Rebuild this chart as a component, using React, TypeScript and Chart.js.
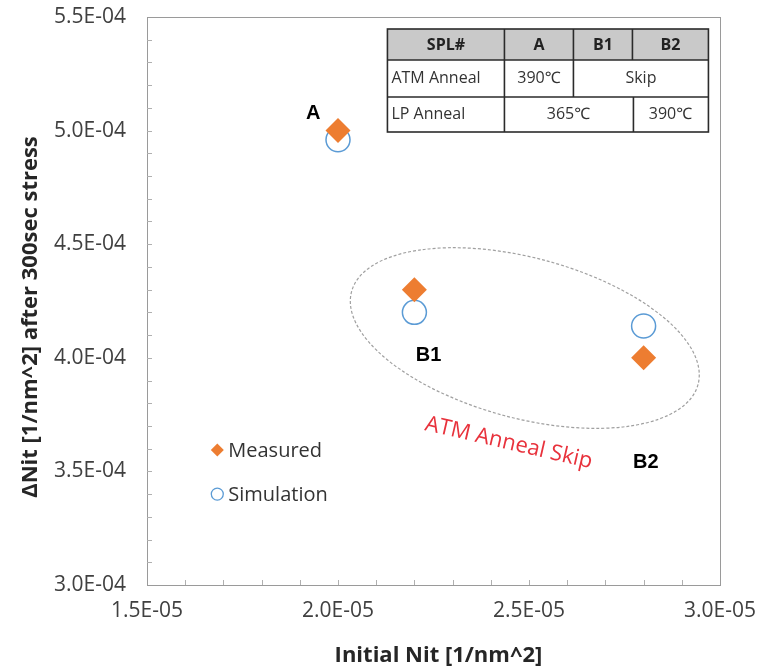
import React, { useEffect, useRef } from "react";
import { Chart, registerables } from "chart.js";

Chart.register(...registerables);

// ---- data ----
const seriesNames = ["Measured", "Simulation"];
const sampleNames = ["A", "B1", "B2"];
const initialNit = [2.0e-5, 2.2e-5, 2.8e-5];
const measuredDeltaNit = [5.0e-4, 4.3e-4, 4.0e-4];
const simulatedDeltaNit = [4.96e-4, 4.2e-4, 4.14e-4];

const xMajorTicks = [1.5e-5, 2.0e-5, 2.5e-5, 3.0e-5];
const xTickLabels = ["1.5E-05", "2.0E-05", "2.5E-05", "3.0E-05"];
const yMajorTicks = [3.0e-4, 3.5e-4, 4.0e-4, 4.5e-4, 5.0e-4, 5.5e-4];
const yTickLabels = ["3.0E-04", "3.5E-04", "4.0E-04", "4.5E-04", "5.0E-04", "5.5E-04"];

const xTitle = "Initial Nit [1/nm^2]";
const yTitle = "\u0394Nit [1/nm^2] after 300sec stress";

// sample label anchors (data units)
const sampleLabelX = [1.935e-5, 2.237e-5, 2.806e-5];
const sampleLabelY = [5.077e-4, 4.012e-4, 3.541e-4];

// group ellipse + note (data units for centre)
const groupCenter = [2.489e-5, 4.087e-4];
const groupNote = "ATM Anneal Skip";
const groupNotePos = [2.447e-5, 3.625e-4];

// legend anchors (data units)
const legendX = 1.684e-5;
const legendY = [3.594e-4, 3.40e-4];

// condition table
const tableHeader = ["SPL#", "A", "B1", "B2"];
const atmRow = ["ATM Anneal", "390\u2103", "Skip"];
const lpRow = ["LP Anneal", "365\u2103", "390\u2103"];

const ORANGE = "#ED7D31";
const BLUE = "#5B9BD5";
const FONT = "'Open Sans', 'Noto Sans', sans-serif";

function lookup(ticks: number[], labels: string[], v: number, tol: number) {
  const i = ticks.findIndex((t) => Math.abs(t - v) < tol);
  return i >= 0 ? labels[i] : "";
}

function drawDiamond(ctx: CanvasRenderingContext2D, x: number, y: number, r: number) {
  ctx.beginPath();
  ctx.moveTo(x, y - r);
  ctx.lineTo(x + r, y);
  ctx.lineTo(x, y + r);
  ctx.lineTo(x - r, y);
  ctx.closePath();
}

const overlayPlugin = {
  id: "overlay",
  beforeDatasetsDraw(chart: any) {
    const { ctx, chartArea: a, scales } = chart;
    const xs = scales.x;
    const ys = scales.y;
    ctx.save();
    // plot box
    ctx.strokeStyle = "#9a9a9a";
    ctx.lineWidth = 1;
    ctx.strokeRect(Math.round(a.left) + 0.5, Math.round(a.top) + 0.5, Math.round(a.right - a.left), Math.round(a.bottom - a.top));
    // minor ticks (inside)
    ctx.strokeStyle = "#b0b0b0";
    ctx.beginPath();
    for (let k = 1; k < 15; k++) {
      const px = Math.round(xs.getPixelForValue(1.5e-5 + k * 1e-6)) + 0.5;
      ctx.moveTo(px, a.bottom);
      ctx.lineTo(px, a.bottom - 5);
    }
    for (let k = 1; k < 25; k++) {
      const py = Math.round(ys.getPixelForValue(3.0e-4 + k * 1e-5)) + 0.5;
      ctx.moveTo(a.left, py);
      ctx.lineTo(a.left + 5, py);
    }
    ctx.stroke();
    // dashed ellipse
    const cx = xs.getPixelForValue(groupCenter[0]);
    const cy = ys.getPixelForValue(groupCenter[1]);
    const w = a.right - a.left;
    ctx.setLineDash([3, 2]);
    ctx.strokeStyle = "#a0a0a0";
    ctx.lineWidth = 1.2;
    ctx.beginPath();
    ctx.ellipse(cx, cy, w * 0.313, w * 0.14, (15 * Math.PI) / 180, 0, Math.PI * 2);
    ctx.stroke();
    ctx.restore();

    // axis titles
    ctx.save();
    ctx.fillStyle = "#262626";
    ctx.font = `bold 22px ${FONT}`;
    ctx.textAlign = "center";
    ctx.textBaseline = "middle";
    ctx.fillText(xTitle, (a.left + a.right) / 2 + 5, a.bottom + 71);
    ctx.translate(a.left - 116, (a.top + a.bottom) / 2 + 16);
    ctx.rotate(-Math.PI / 2);
    ctx.fillText(yTitle, 0, 0);
    ctx.restore();
  },
  afterDatasetsDraw(chart: any) {
    const { ctx, chartArea: a, scales } = chart;
    const xs = scales.x;
    const ys = scales.y;
    ctx.save();
    // sample labels
    ctx.fillStyle = "#000";
    ctx.font = "bold 20px 'Liberation Sans', Arial, sans-serif";
    ctx.textAlign = "center";
    ctx.textBaseline = "middle";
    sampleNames.forEach((n, i) => {
      ctx.fillText(n, xs.getPixelForValue(sampleLabelX[i]), ys.getPixelForValue(sampleLabelY[i]));
    });
    // red note
    ctx.save();
    ctx.translate(xs.getPixelForValue(groupNotePos[0]), ys.getPixelForValue(groupNotePos[1]));
    ctx.rotate((13 * Math.PI) / 180);
    ctx.fillStyle = "#E8323C";
    ctx.font = `22px ${FONT}`;
    ctx.fillText(groupNote, 0, 0);
    ctx.restore();
    // legend
    ctx.textAlign = "left";
    ctx.font = `20px ${FONT}`;
    const lx = xs.getPixelForValue(legendX);
    const ly0 = ys.getPixelForValue(legendY[0]);
    const ly1 = ys.getPixelForValue(legendY[1]);
    ctx.fillStyle = ORANGE;
    drawDiamond(ctx, lx, ly0, 6.5);
    ctx.fill();
    ctx.strokeStyle = BLUE;
    ctx.lineWidth = 1.3;
    ctx.beginPath();
    ctx.arc(lx, ly1, 6, 0, Math.PI * 2);
    ctx.stroke();
    ctx.fillStyle = "#333";
    ctx.fillText(seriesNames[0], lx + 11, ly0 + 1);
    ctx.fillText(seriesNames[1], lx + 11, ly1 + 1);

    // table
    const tx = a.left + (a.right - a.left) * 0.4196;
    const ty = a.top + 12;
    const colW = [117, 69, 59, 76];
    const rowH = [31, 37, 35];
    const tw = colW.reduce((s, v) => s + v, 0);
    const th = rowH.reduce((s, v) => s + v, 0);
    const cxs = [tx];
    colW.forEach((c, i) => cxs.push(cxs[i] + c));
    const rys = [ty];
    rowH.forEach((r, i) => rys.push(rys[i] + r));
    ctx.fillStyle = "#fff";
    ctx.fillRect(tx, ty, tw, th);
    ctx.fillStyle = "#c9c9c9";
    ctx.fillRect(tx, ty, tw, rowH[0]);
    ctx.strokeStyle = "#2b2b2b";
    ctx.lineWidth = 1.6;
    ctx.strokeRect(tx, ty, tw, th);
    ctx.beginPath();
    ctx.moveTo(tx, rys[1]); ctx.lineTo(tx + tw, rys[1]);
    ctx.moveTo(tx, rys[2]); ctx.lineTo(tx + tw, rys[2]);
    ctx.moveTo(cxs[1], ty); ctx.lineTo(cxs[1], ty + th);
    ctx.moveTo(cxs[2], ty); ctx.lineTo(cxs[2], rys[2]);
    ctx.moveTo(cxs[3], ty); ctx.lineTo(cxs[3], rys[1]);
    ctx.moveTo(cxs[3] + 1, rys[2]); ctx.lineTo(cxs[3] + 1, ty + th);
    ctx.stroke();
    ctx.textBaseline = "middle";
    ctx.fillStyle = "#222";
    ctx.font = `bold 16px ${FONT}`;
    ctx.textAlign = "center";
    tableHeader.forEach((h, i) => ctx.fillText(h, (cxs[i] + cxs[i + 1]) / 2, (rys[0] + rys[1]) / 2 + 1));
    ctx.font = `16px ${FONT}`;
    ctx.fillStyle = "#333";
    ctx.textAlign = "left";
    ctx.fillText(atmRow[0], tx + 4, (rys[1] + rys[2]) / 2);
    ctx.fillText(lpRow[0], tx + 4, (rys[2] + rys[3]) / 2);
    ctx.textAlign = "center";
    ctx.fillText(atmRow[1], (cxs[1] + cxs[2]) / 2, (rys[1] + rys[2]) / 2);
    ctx.fillText(atmRow[2], (cxs[2] + cxs[4]) / 2, (rys[1] + rys[2]) / 2);
    ctx.fillText(lpRow[1], (cxs[1] + cxs[3]) / 2, (rys[2] + rys[3]) / 2);
    ctx.fillText(lpRow[2], (cxs[3] + cxs[4]) / 2, (rys[2] + rys[3]) / 2);
    ctx.restore();
  },
};

export default function App() {
  const ref = useRef<HTMLCanvasElement | null>(null);
  useEffect(() => {
    document.body.style.margin = "0";
    const canvas = ref.current;
    if (!canvas) return;
    const chart = new Chart(canvas, {
      type: "scatter",
      data: {
        datasets: [
          {
            label: seriesNames[0],
            data: initialNit.map((x, i) => ({ x, y: measuredDeltaNit[i] })),
            pointStyle: "rectRot",
            pointRadius: 12.5,
            backgroundColor: ORANGE,
            borderColor: ORANGE,
            borderWidth: 0,
          },
          {
            label: seriesNames[1],
            data: initialNit.map((x, i) => ({ x, y: simulatedDeltaNit[i] })),
            pointStyle: "circle",
            pointRadius: 12,
            backgroundColor: "rgba(255,255,255,0)",
            borderColor: BLUE,
            borderWidth: 1.5,
          },
        ],
      },
      options: {
        responsive: false,
        animation: false,
        layout: { padding: { top: 17, right: 38, left: 0, bottom: 0 } },
        plugins: { legend: { display: false }, tooltip: { enabled: false } },
        scales: {
          x: {
            type: "linear",
            min: 1.5e-5,
            max: 3.0e-5,
            grid: { display: false, drawTicks: false },
            border: { display: false },
            ticks: {
              stepSize: 5e-6,
              padding: 13,
              color: "#404040",
              font: { family: FONT, size: 21 },
              callback: (v: any) => lookup(xMajorTicks, xTickLabels, Number(v), 1e-9),
            },
            title: { display: false, text: xTitle },
            afterFit: (s: any) => {
              s.height = 87;
              s.paddingLeft = 0;
              s.paddingRight = 0;
            },
          },
          y: {
            type: "linear",
            min: 3.0e-4,
            max: 5.5e-4,
            grid: { display: false, drawTicks: false },
            border: { display: false },
            ticks: {
              stepSize: 5e-5,
              padding: 21,
              color: "#404040",
              font: { family: FONT, size: 21 },
              callback: (v: any) => lookup(yMajorTicks, yTickLabels, Number(v), 1e-8),
            },
            title: { display: false, text: yTitle },
            afterFit: (s: any) => {
              s.width = 147;
              s.paddingTop = 0;
              s.paddingBottom = 0;
            },
          },
        },
      },
      plugins: [overlayPlugin],
    } as any);
    return () => chart.destroy();
  }, []);
  return (
    <div style={{ width: 758, height: 672, background: "#fff" }}>
      <canvas ref={ref} width={758} height={672} style={{ display: "block" }} />
    </div>
  );
}
